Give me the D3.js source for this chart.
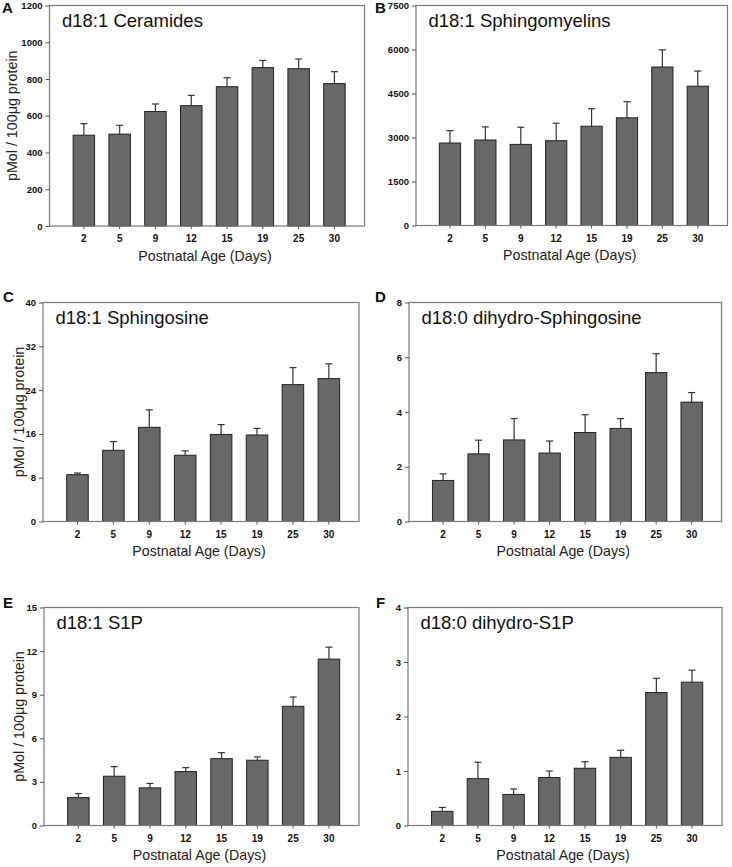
<!doctype html>
<html>
<head>
<meta charset="utf-8">
<script src="https://cdn.jsdelivr.net/npm/d3@7"></script>
<style>
  body { margin: 0; background: #fff; }
  svg { display: block; font-family: "Liberation Sans", Arial, sans-serif; }
</style>
</head>
<body>
<svg id="chart" width="732" height="867"></svg>
<script>
// postnatal ages on the x axis (days)
const ages = ['2', '5', '9', '12', '15', '19', '25', '30']

const ceramideMean = [494, 500, 623, 655, 758, 862, 856, 775]
const ceramideErr = [63, 48, 41, 56, 49, 39, 53, 65]

const sphingomyelinMean = [2811, 2914, 2765, 2891, 3384, 3671, 5403, 4749]
const sphingomyelinErr = [424, 447, 585, 596, 597, 551, 585, 516]

const sphingosineMean = [8.55, 13.0, 17.2, 12.1, 15.9, 15.8, 25.0, 26.1]
const sphingosineErr = [0.3, 1.6, 3.2, 0.8, 1.8, 1.2, 3.1, 2.7]

const dihydroSphingosineMean = [1.50, 2.47, 2.98, 2.50, 3.25, 3.40, 5.44, 4.36]
const dihydroSphingosineErr = [0.24, 0.50, 0.78, 0.44, 0.65, 0.36, 0.69, 0.35]

const s1pMean = [1.92, 3.39, 2.59, 3.71, 4.60, 4.49, 8.20, 11.45]
const s1pErr = [0.28, 0.66, 0.30, 0.27, 0.41, 0.23, 0.64, 0.82]

const dihydroS1pMean = [0.26, 0.86, 0.57, 0.88, 1.05, 1.25, 2.44, 2.63]
const dihydroS1pErr = [0.07, 0.30, 0.10, 0.12, 0.12, 0.13, 0.26, 0.22]

const panelLetters = ['A', 'B', 'C', 'D', 'E', 'F']
const panelTitles = ['d18:1 Ceramides', 'd18:1 Sphingomyelins', 'd18:1 Sphingosine',
  'd18:0 dihydro-Sphingosine', 'd18:1 S1P', 'd18:0 dihydro-S1P']
const yMax = [1200, 7500, 40, 8, 15, 4]
const yStep = [200, 1500, 8, 2, 3, 1]

const means = [ceramideMean, sphingomyelinMean, sphingosineMean, dihydroSphingosineMean, s1pMean, dihydroS1pMean]
const errs = [ceramideErr, sphingomyelinErr, sphingosineErr, dihydroSphingosineErr, s1pErr, dihydroS1pErr]

const xTitle = 'Postnatal Age (Days)'
const yTitle = 'pMol / 100\u03bcg protein'

// plot frames: [left, top, right, bottom], letter baseline, y-title x (left column only)
const frames = [
  { box: [49.5, 5.5, 364.5, 226], letter: [2, 13], yTitleX: 12 },
  { box: [416, 5.5, 727.5, 225.5], letter: [375, 13] },
  { box: [43, 302.5, 359, 521.5], letter: [3, 302], yTitleX: 18.5 },
  { box: [409, 302.5, 721.5, 521.5], letter: [375, 302] },
  { box: [44, 607.5, 359, 825.5], letter: [3, 608], yTitleX: 18.5 },
  { box: [408, 607.5, 722, 825.5], letter: [376, 608] }
]

const svg = d3.select('#chart')

frames.forEach((f, i) => {
  const [x0, y0, x1, y1] = f.box
  const x = d3.scaleBand().domain(ages).range([x0, x1])
    .paddingInner(0.4).paddingOuter(0.6).align(0.55)
  const y = d3.scaleLinear().domain([0, yMax[i]]).range([y1, y0])
  const data = ages.map((a, k) => ({ age: a, v: means[i][k], e: errs[i][k] }))
  const g = svg.append('g')

  // bars
  g.selectAll('rect.bar').data(data).enter().append('rect')
    .attr('class', 'bar')
    .attr('x', d => x(d.age))
    .attr('width', x.bandwidth())
    .attr('y', d => y(d.v))
    .attr('height', d => y1 - y(d.v))
    .attr('fill', '#686868')
    .attr('stroke', '#222')
    .attr('stroke-width', 1)

  // upper error bars
  g.selectAll('line.err').data(data).enter().append('line')
    .attr('class', 'err')
    .attr('x1', d => x(d.age) + x.bandwidth() / 2)
    .attr('x2', d => x(d.age) + x.bandwidth() / 2)
    .attr('y1', d => y(d.v))
    .attr('y2', d => y(d.v + d.e))
    .attr('stroke', '#333')
    .attr('stroke-width', 1.2)
  g.selectAll('line.cap').data(data).enter().append('line')
    .attr('class', 'cap')
    .attr('x1', d => x(d.age) + x.bandwidth() / 2 - 3.5)
    .attr('x2', d => x(d.age) + x.bandwidth() / 2 + 3.5)
    .attr('y1', d => y(d.v + d.e))
    .attr('y2', d => y(d.v + d.e))
    .attr('stroke', '#333')
    .attr('stroke-width', 1.2)

  // frame
  g.append('rect')
    .attr('x', x0).attr('y', y0)
    .attr('width', x1 - x0).attr('height', y1 - y0)
    .attr('fill', 'none')
    .attr('stroke', '#7a7a7a')
    .attr('stroke-width', 1.2)

  // y axis
  const yAxis = g.append('g')
    .attr('transform', `translate(${x0},0)`)
    .call(d3.axisLeft(y).tickValues(d3.range(0, yMax[i] + 1e-9, yStep[i]))
      .tickSize(4).tickPadding(3).tickFormat(d3.format('d')))
  yAxis.select('.domain').remove()
  yAxis.selectAll('line').attr('stroke', '#555')
  yAxis.selectAll('text')
    .attr('font-family', '"Liberation Sans", Arial, sans-serif')
    .attr('font-size', 9.5).attr('font-weight', 'bold').attr('fill', '#111')

  // x axis
  const xAxis = g.append('g')
    .attr('transform', `translate(0,${y1})`)
    .call(d3.axisBottom(x).tickSize(3).tickPadding(6))
  xAxis.select('.domain').remove()
  xAxis.selectAll('line').attr('stroke', '#555')
  xAxis.selectAll('text')
    .attr('font-family', '"Liberation Sans", Arial, sans-serif')
    .attr('font-size', 10).attr('font-weight', 'bold').attr('fill', '#111')

  // x title
  g.append('text')
    .attr('x', (x0 + x1) / 2 - 2)
    .attr('y', y1 + 34.5)
    .attr('text-anchor', 'middle')
    .attr('font-size', 14.2)
    .attr('fill', '#222')
    .text(xTitle)

  // y title on left column
  if (f.yTitleX !== undefined) {
    g.append('text')
      .attr('transform', `translate(${f.yTitleX + 5},${(y0 + y1) / 2}) rotate(-90)`)
      .attr('text-anchor', 'middle')
      .attr('font-size', 14.3)
      .attr('fill', '#222')
      .text(yTitle)
  }

  // panel title inside the frame
  g.append('text')
    .attr('x', x0 + 12.5)
    .attr('y', y0 + 21.5)
    .attr('font-size', 18.5)
    .attr('fill', '#111')
    .text(panelTitles[i])

  // panel letter
  g.append('text')
    .attr('x', f.letter[0])
    .attr('y', f.letter[1])
    .attr('font-size', 15)
    .attr('font-weight', 'bold')
    .attr('fill', '#111')
    .text(panelLetters[i])
})
</script>
</body>
</html>
